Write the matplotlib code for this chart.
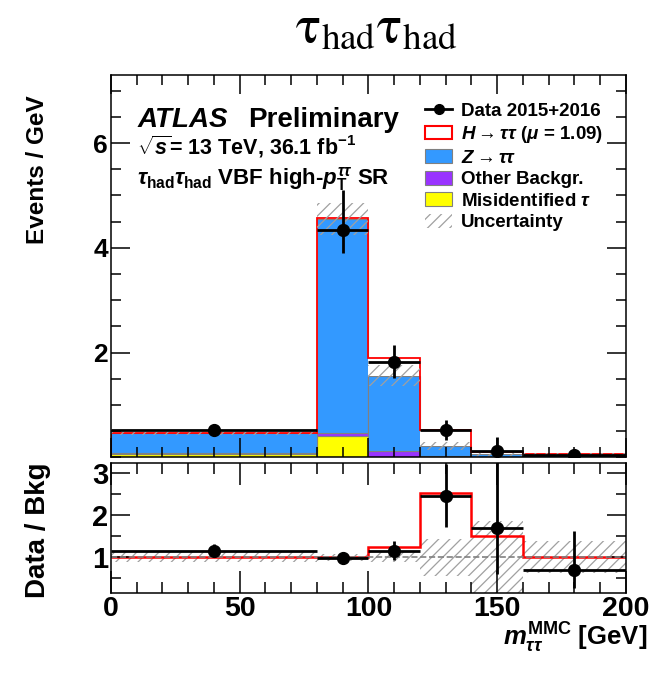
import numpy as np
import matplotlib.pyplot as plt
from matplotlib.patches import Patch
from matplotlib.lines import Line2D
from matplotlib.ticker import MultipleLocator, FixedLocator

plt.rcParams['font.family'] = ['Liberation Sans', 'DejaVu Sans']
plt.rcParams['mathtext.fontset'] = 'custom'
plt.rcParams['mathtext.rm'] = 'Liberation Sans:bold'
plt.rcParams['mathtext.it'] = 'Liberation Sans:italic:bold'
plt.rcParams['mathtext.bf'] = 'Liberation Sans:bold'
plt.rcParams['mathtext.sf'] = 'Liberation Sans:bold'
plt.rcParams['hatch.linewidth'] = 0.9
plt.rcParams['axes.linewidth'] = 1.1

# binning in m_tautau^MMC [GeV]
edges = np.array([0, 80, 100, 120, 140, 160, 200])

# stacked expectation, events / GeV
fake_tau = [0.07, 0.41, 0.01, 0.005, 0.003, 0.002]
other_bkg = [0.01, 0.06, 0.11, 0.015, 0.007, 0.005]
z_tautau = [0.38, 4.08, 1.44, 0.19, 0.055, 0.05]
h_tautau = [0.005, 0.02, 0.33, 0.31, 0.035, 0.0]
bkg_unc = [0.03, 0.30, 0.20, 0.08, 0.055, 0.02]

# data, events / GeV
data = [0.52, 4.35, 1.81, 0.52, 0.11, 0.05]
data_err_lo = [0.08, 0.45, 0.30, 0.19, 0.10, 0.025]
data_err_hi = [0.08, 0.76, 0.33, 0.19, 0.28, 0.05]

# ratio panel
ratio_data = [1.155, 0.98, 1.16, 2.47, 1.70, 0.705]
ratio_err_lo = [0.16, 0.10, 0.23, 0.76, 1.09, 0.445]
ratio_err_hi = [0.16, 0.10, 0.23, 0.76, 1.80, 0.925]
ratio_sig = [1.0, 1.01, 1.245, 2.52, 1.51, 1.0]
ratio_unc = [0.115, 0.08, 0.12, 0.44, 0.87, 0.375]

col_z = '#3399ff'
col_other = '#9933ff'
col_fake = '#ffff00'
col_edge = '#808080'
col_hatch = '#a0a0a0'

widths = np.diff(edges)
centers = edges[:-1] + widths / 2
left = edges[:-1]

fig = plt.figure(figsize=(6.56, 6.8), dpi=100)
ax = fig.add_axes([0.1692, 0.3276, 0.785, 0.562])
rax = fig.add_axes([0.1692, 0.1275, 0.785, 0.1919])

# main panel: stacked backgrounds
bottom = np.zeros(len(widths))
for vals, col in [(fake_tau, col_fake), (other_bkg, col_other), (z_tautau, col_z)]:
    ax.bar(left, vals, width=widths, bottom=bottom, align='edge',
           color=col, edgecolor=col_edge, linewidth=0.8)
    bottom = bottom + np.array(vals)
bkg_total = bottom.copy()
sb_total = bkg_total + np.array(h_tautau)

ax.bar(left, h_tautau, width=widths, bottom=bkg_total, align='edge',
       color='white', linewidth=0)
ax.stairs(sb_total, edges, baseline=0, color='red', linewidth=1.3)

unc = np.array(bkg_unc)
ax.bar(left, 2 * unc, width=widths, bottom=bkg_total - unc, align='edge',
       fill=False, hatch='///', edgecolor=col_hatch, linewidth=0)

ax.errorbar(centers, data, xerr=widths / 2, yerr=[data_err_lo, data_err_hi],
            fmt='o', color='black', ms=8.5, elinewidth=2, capsize=0)

ax.set_xlim(0, 200)
ax.set_ylim(0, 7.3)
ax.xaxis.set_major_locator(MultipleLocator(50))
ax.xaxis.set_minor_locator(MultipleLocator(10))
ax.yaxis.set_major_locator(FixedLocator([2, 4, 6]))
ax.yaxis.set_minor_locator(MultipleLocator(0.5))
ax.tick_params(which='both', direction='in', top=True, right=True, width=1.1)
ax.tick_params(which='major', length=14)
ax.tick_params(which='minor', length=7)
ax.tick_params(axis='x', labelbottom=False)
ax.tick_params(axis='y', labelsize=19, pad=2)

ax.text(0.0524, 0.865, 'ATLAS', transform=ax.transAxes, fontsize=20,
        fontstyle='italic', fontweight='bold', va='baseline')
ax.text(0.266, 0.865, 'Preliminary', transform=ax.transAxes, fontsize=20,
        fontweight='bold', va='baseline')
ax.text(0.050, 0.791, r'$\sqrt{s}$= 13 TeV, 36.1 fb$^{-1}$',
        transform=ax.transAxes, fontsize=15.5, fontweight='bold', va='baseline')
ax.text(0.050, 0.715,
        r'$\tau_{\mathrm{had}}\tau_{\mathrm{had}}$ VBF high-$p_{\mathrm{T}}^{\tau\tau}$ SR',
        transform=ax.transAxes, fontsize=16, fontweight='bold', va='baseline')

handles = [
    Line2D([], [], color='black', marker='o', ms=7, lw=2),
    Patch(facecolor='white', edgecolor='red', linewidth=1.5),
    Patch(facecolor=col_z, edgecolor=col_edge, linewidth=0.8),
    Patch(facecolor=col_other, edgecolor=col_edge, linewidth=0.8),
    Patch(facecolor=col_fake, edgecolor=col_edge, linewidth=0.8),
    Patch(facecolor='white', edgecolor=col_hatch, hatch='///', linewidth=0),
]
labels = [
    'Data 2015+2016',
    r'$H\rightarrow\tau\tau$ ($\mu$ = 1.09)',
    r'$Z\rightarrow\tau\tau$',
    'Other Backgr.',
    r'Misidentified $\tau$',
    'Uncertainty',
]
ax.legend(handles, labels, loc='upper left', bbox_to_anchor=(0.61, 0.928),
          frameon=False, prop={'size': 13.5, 'weight': 'bold'},
          handlelength=1.45, handleheight=0.75, handletextpad=0.45,
          labelspacing=0.22, borderpad=0, borderaxespad=0)

# ratio panel
runc = np.array(ratio_unc)
rax.bar(left, 2 * runc, width=widths, bottom=1 - runc, align='edge',
        fill=False, hatch='///', edgecolor=col_hatch, linewidth=0)
rax.axhline(1, color='#808080', ls='--', lw=1.2)
rax.stairs(ratio_sig, edges, baseline=None, color='red', linewidth=1.8)
rax.errorbar(centers, ratio_data, xerr=widths / 2,
             yerr=[ratio_err_lo, ratio_err_hi],
             fmt='o', color='black', ms=8.5, elinewidth=2, capsize=0)

rax.set_xlim(0, 200)
rax.set_ylim(0.14, 3.25)
rax.xaxis.set_major_locator(MultipleLocator(50))
rax.xaxis.set_minor_locator(MultipleLocator(10))
rax.yaxis.set_major_locator(FixedLocator([1, 2, 3]))
rax.yaxis.set_minor_locator(MultipleLocator(0.5))
rax.tick_params(which='both', direction='in', top=True, right=True, width=1.1)
rax.tick_params(axis='x', which='major', length=16, labelsize=20.5, pad=2)
rax.tick_params(axis='x', which='minor', length=8)
rax.tick_params(axis='y', which='major', length=14, labelsize=21, pad=2)
rax.tick_params(axis='y', which='minor', length=7)

for lbl in ax.get_yticklabels() + rax.get_xticklabels() + rax.get_yticklabels():
    lbl.set_fontweight('bold')

fig.text(38 / 656, 1 - 95 / 680, 'Events / GeV', rotation=90,
         ha='center', va='top', fontsize=17.5, fontweight='bold')
fig.text(38 / 656, 1 - 462 / 680, 'Data / Bkg', rotation=90,
         ha='center', va='top', fontsize=20, fontweight='bold')
fig.text(647 / 656, 1 - 646 / 680, r'$m_{\tau\tau}^{\mathrm{MMC}}$ [GeV]',
         ha='right', va='baseline', fontsize=18.5, fontweight='bold')

fig.text(376 / 656, 1 - 42 / 680,
         r'$\mathrm{τ}_{\mathrm{had}}\mathrm{τ}_{\mathrm{had}}$',
         ha='center', va='baseline', fontsize=38, math_fontfamily='stix')

fig.savefig('out.png', dpi=100)
